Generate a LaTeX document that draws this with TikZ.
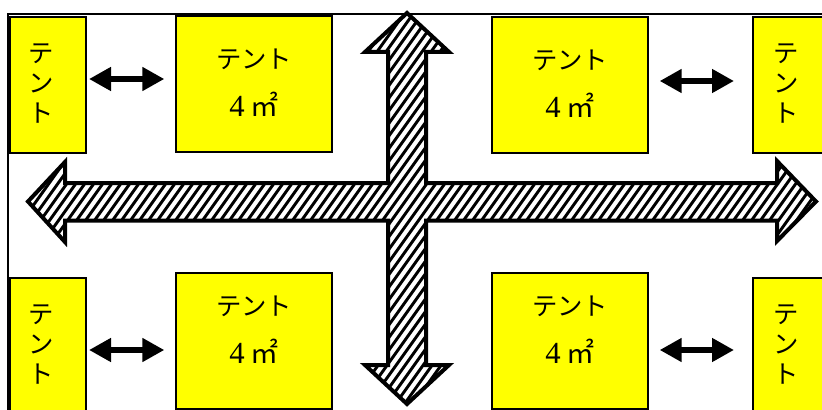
\documentclass[tikz,border=0pt]{standalone}
\usepackage{fontspec}
\setmainfont{Liberation Serif}
\newfontfamily\cjk{Noto Sans CJK JP}
\newfontfamily\latin{Liberation Serif}
\usepackage{tikz}
\usetikzlibrary{arrows.meta,calc}
\definecolor{ink}{HTML}{000000}
\definecolor{tentfill}{HTML}{FFFF00}
\tikzset{
  every node/.style={text=ink},
  tent/.style={draw=ink,line width=1.5pt,fill=tentfill,minimum height=102pt,inner sep=0pt,anchor=north west},
  bigtent/.style={tent,minimum width=117pt},
  sidetent/.style={tent,minimum width=57pt},
  tentlabel/.style={align=center,inner sep=0pt,font=\fontsize{19}{36}\selectfont\cjk},
  sidelabel/.style={align=center,inner sep=0pt,font=\fontsize{19}{22.5}\selectfont\cjk},
  walk/.style={{Triangle[length=16.5pt,width=17pt]}-{Triangle[length=16.5pt,width=17pt]},line width=5pt,draw=ink},
  aisle/.style={draw=ink,line width=3pt,line join=miter},
  hatch/.style={draw=ink,line width=2.2pt},
  frame/.style={draw=ink,line width=1.5pt}
}
\newcommand\aislepath{(407,13) -- (449,52) -- (426,52) -- (426,183) -- (777,183) -- (777,161)
    -- (816,201.5) -- (777,241) -- (777,220.5) -- (426,220.5) -- (426,365) -- (449,365)
    -- (407,404) -- (365,365) -- (388,365) -- (388,220.5) -- (65,220.5) -- (65,242)
    -- (28,201.5) -- (65,162) -- (65,183) -- (388,183) -- (388,52) -- (365,52) -- cycle}
\newcommand\area{{\latin\fontsize{23}{36}\selectfont 4} {\fontsize{21}{36}\selectfont ㎡}}
\begin{document}
\begin{tikzpicture}[x=0.75pt,y=-0.75pt]
  \clip (0,0) rectangle (822,410);
  \fill[white] (0,0) rectangle (822,410);
  \draw[frame] (822,14) -- (8,14) -- (8,410);

  \node[sidetent] (sideTL) at (9,16) {};
  \node[bigtent] (tentTL) at (175,15) {};
  \node[bigtent] (tentTR) at (491,16) {};
  \node[sidetent] (sideTR) at (752,16) {};
  \node[sidetent] (sideBL) at (9,277) {};
  \node[bigtent] (tentBL) at (175,272) {};
  \node[bigtent] (tentBR) at (491,272) {};
  \node[sidetent] (sideBR) at (752,277) {};

  \node[tentlabel] at ([yshift=-50.6pt]tentTL.north) {テント\\\area};
  \node[tentlabel] at ([yshift=-50.6pt]tentTR.north) {テント\\\area};
  \node[tentlabel] at ([yshift=-43pt]tentBL.north) {テント\\\area};
  \node[tentlabel] at ([yshift=-43pt]tentBR.north) {テント\\\area};
  \node[sidelabel] at ([xshift=-5pt,yshift=-51pt]sideTL.north) {テ\\ン\\ト};
  \node[sidelabel] at ([xshift=-4pt,yshift=-51pt]sideTR.north) {テ\\ン\\ト};
  \node[sidelabel] at ([xshift=-5pt,yshift=-51pt]sideBL.north) {テ\\ン\\ト};
  \node[sidelabel] at ([xshift=-4pt,yshift=-51pt]sideBR.north) {テ\\ン\\ト};

  \draw[walk,shorten <=1.5pt,shorten >=8pt] ([yshift=4.5pt]sideTL.east) -- ([yshift=3.75pt]tentTL.west);
  \draw[walk,shorten <=8pt,shorten >=13.5pt] ([yshift=3pt]tentTR.east) -- ([yshift=3pt]sideTR.west);
  \draw[walk,shorten <=1.5pt,shorten >=8pt] ([yshift=-3pt]sideBL.east) -- ([yshift=-6.75pt]tentBL.west);
  \draw[walk,shorten <=8pt,shorten >=13.5pt] ([yshift=-6.75pt]tentBR.east) -- ([yshift=-3pt]sideBR.west);

  \begin{scope}
    \fill[white] \aislepath;
    \clip \aislepath;
    \foreach \i in {0,9,...,1200}
      \draw[hatch] (\i-300,420) -- (\i,0);
  \end{scope}
  \draw[aisle] \aislepath;
\end{tikzpicture}
\end{document}
